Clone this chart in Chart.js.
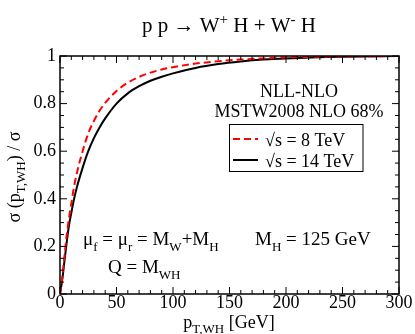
<!DOCTYPE html>
<html>
<head>
<meta charset="utf-8">
<script src="https://cdn.jsdelivr.net/npm/chart.js@4/dist/chart.umd.min.js"></script>
<style>
  html, body { margin: 0; padding: 0; background: #fff; }
  canvas { display: block; }
</style>
</head>
<body>
<canvas id="ptChart" width="415" height="334"></canvas>
<script>
// cumulative fraction of the WH cross section below a pT cut
const pT = [0, 2, 4, 6, 8, 10, 12, 15, 20, 25, 30, 35, 40, 50, 60, 70, 80, 90, 100, 120, 140, 160, 180, 200, 250, 300];
const frac8TeV = [0, 0.07, 0.16, 0.25, 0.32, 0.38, 0.44, 0.51, 0.60, 0.675, 0.727, 0.77, 0.803, 0.853, 0.888, 0.912, 0.93, 0.943, 0.953, 0.968, 0.978, 0.985, 0.99, 0.994, 0.998, 1.0];
const frac14TeV = [0, 0.06, 0.14, 0.22, 0.29, 0.34, 0.39, 0.45, 0.53, 0.60, 0.655, 0.70, 0.738, 0.80, 0.843, 0.873, 0.896, 0.913, 0.927, 0.95, 0.966, 0.977, 0.985, 0.99, 0.997, 1.0];
const seriesLabels = ['\u221As = 8 TeV', '\u221As = 14 TeV'];
const xTicks = [0, 50, 100, 150, 200, 250, 300];
const yTicks = [0, 0.2, 0.4, 0.6, 0.8, 1];

const SERIF = '"Liberation Serif", "Times New Roman", serif';

function toPoints(xs, ys) {
    return xs.map((v, i) => ({ x: v, y: ys[i] }));
}

// text with sub/superscripts, parts = [[text, 'n'|'sub'|'sup'], ...]
function richWidth(ctx, parts, size) {
    let w = 0;
    parts.forEach(([t, k]) => {
        ctx.font = (k === 'n' ? size : Math.round(size * 0.7)) + 'px ' + SERIF;
        w += ctx.measureText(t).width;
    });
    return w;
}

function drawRich(ctx, x, y, parts, size) {
    let cx = x;
    parts.forEach(([t, k]) => {
        const s = k === 'n' ? size : Math.round(size * 0.7);
        ctx.font = s + 'px ' + SERIF;
        let dy = 0;
        if (k === 'sub') dy = size * 0.3;
        if (k === 'sup') dy = -size * 0.4;
        ctx.fillText(t, cx, y + dy);
        cx += ctx.measureText(t).width;
    });
}

const decorations = {
    id: 'decorations',
    beforeDraw(chart) {
        const ctx = chart.ctx;
        ctx.save();
        ctx.fillStyle = '#fff';
        ctx.fillRect(0, 0, chart.width, chart.height);
        ctx.restore();
    },
    afterDraw(chart) {
        const { ctx, chartArea: a, scales: { x, y } } = chart;
        ctx.save();
        ctx.strokeStyle = '#000';
        ctx.fillStyle = '#000';

        // frame
        ctx.lineWidth = 1.5;
        ctx.strokeRect(a.left, a.top, a.right - a.left, a.bottom - a.top);

        // inward ticks on all four sides
        ctx.lineWidth = 1;
        ctx.beginPath();
        for (let v = x.min; v <= x.max; v += 10) {
            const px = x.getPixelForValue(v);
            const len = v % 50 === 0 ? 7 : 4;
            ctx.moveTo(px, a.bottom); ctx.lineTo(px, a.bottom - len);
            ctx.moveTo(px, a.top); ctx.lineTo(px, a.top + len);
        }
        for (let i = 0; i <= 20; i++) {
            const py = y.getPixelForValue(i * 0.05);
            const len = i % 4 === 0 ? 7 : 4;
            ctx.moveTo(a.left, py); ctx.lineTo(a.left + len, py);
            ctx.moveTo(a.right, py); ctx.lineTo(a.right - len, py);
        }
        ctx.stroke();

        ctx.textBaseline = 'alphabetic';
        ctx.textAlign = 'left';

        // title
        const title = [['p p \u2192 W', 'n'], ['+', 'sup'], [' H + W', 'n'], ['-', 'sup'], [' H', 'n']];
        const tw = richWidth(ctx, title, 21);
        drawRich(ctx, 229 - tw / 2, 32, title, 21);

        // axis titles
        const xTitle = [['p', 'n'], ['T,WH', 'sub'], [' [GeV]', 'n']];
        const xw = richWidth(ctx, xTitle, 18);
        drawRich(ctx, 229 - xw / 2, 328, xTitle, 18);

        const yTitle = [['\u03C3 (p', 'n'], ['T,WH', 'sub'], [') / \u03C3', 'n']];
        const yw = richWidth(ctx, yTitle, 18);
        ctx.save();
        ctx.translate(20, 177);
        ctx.rotate(-Math.PI / 2);
        drawRich(ctx, -yw / 2, 0, yTitle, 18);
        ctx.restore();

        // calculation labels
        ctx.font = '18px ' + SERIF;
        ctx.textAlign = 'center';
        ctx.fillText('NLL-NLO', 299, 97);
        ctx.fillText('MSTW2008 NLO 68%', 299, 117);
        ctx.textAlign = 'left';

        // legend
        const ds = chart.data.datasets;
        ctx.lineWidth = 1;
        ctx.strokeRect(229.5, 124.5, 133.5, 47);
        const rows = [139, 160];
        ds.forEach((d, i) => {
            ctx.save();
            ctx.strokeStyle = d.borderColor;
            ctx.lineWidth = d.borderWidth;
            ctx.setLineDash(d.borderDash || []);
            ctx.beginPath();
            ctx.moveTo(233, rows[i]);
            ctx.lineTo(258, rows[i]);
            ctx.stroke();
            ctx.restore();
            ctx.font = '18px ' + SERIF;
            ctx.fillText(d.label, 265, rows[i] + 7);
        });

        // scale settings
        drawRich(ctx, 83, 245, [['\u03BC', 'n'], ['f', 'sub'], [' = \u03BC', 'n'], ['r', 'sub'], [' = M', 'n'], ['W', 'sub'], ['+M', 'n'], ['H', 'sub']], 19);
        drawRich(ctx, 255, 245, [['M', 'n'], ['H', 'sub'], [' = 125 GeV', 'n']], 19);
        drawRich(ctx, 108, 273, [['Q = M', 'n'], ['WH', 'sub']], 19);

        ctx.restore();
    }
};

new Chart(document.getElementById('ptChart'), {
    type: 'line',
    data: {
        datasets: [
            {
                label: seriesLabels[0],
                data: toPoints(pT, frac8TeV),
                borderColor: '#ff0000',
                borderWidth: 2,
                borderDash: [7, 4],
                pointRadius: 0,
                cubicInterpolationMode: 'monotone',
                fill: false
            },
            {
                label: seriesLabels[1],
                data: toPoints(pT, frac14TeV),
                borderColor: '#000000',
                borderWidth: 2,
                pointRadius: 0,
                cubicInterpolationMode: 'monotone',
                fill: false
            }
        ]
    },
    options: {
        responsive: false,
        animation: false,
        layout: { padding: { left: 0, right: 16, top: 56, bottom: 0 } },
        plugins: {
            legend: { display: false },
            tooltip: { enabled: false },
            title: { display: false }
        },
        scales: {
            x: {
                type: 'linear',
                min: 0,
                max: 300,
                afterFit(scale) { scale.height = 40; },
                afterBuildTicks(scale) { scale.ticks = xTicks.map(v => ({ value: v })); },
                grid: { display: false, drawTicks: false },
                border: { display: false },
                ticks: {
                    autoSkip: false,
                    maxRotation: 0,
                    padding: 0,
                    color: '#000',
                    font: { family: SERIF, size: 18, lineHeight: 1 }
                }
            },
            y: {
                type: 'linear',
                min: 0,
                max: 1,
                afterFit(scale) { scale.width = 60; },
                afterBuildTicks(scale) { scale.ticks = yTicks.map(v => ({ value: v })); },
                grid: { display: false, drawTicks: false },
                border: { display: false },
                ticks: {
                    autoSkip: false,
                    padding: 4,
                    color: '#000',
                    font: { family: SERIF, size: 18 },
                    callback: v => String(v)
                }
            }
        }
    },
    plugins: [decorations]
});
</script>
</body>
</html>
